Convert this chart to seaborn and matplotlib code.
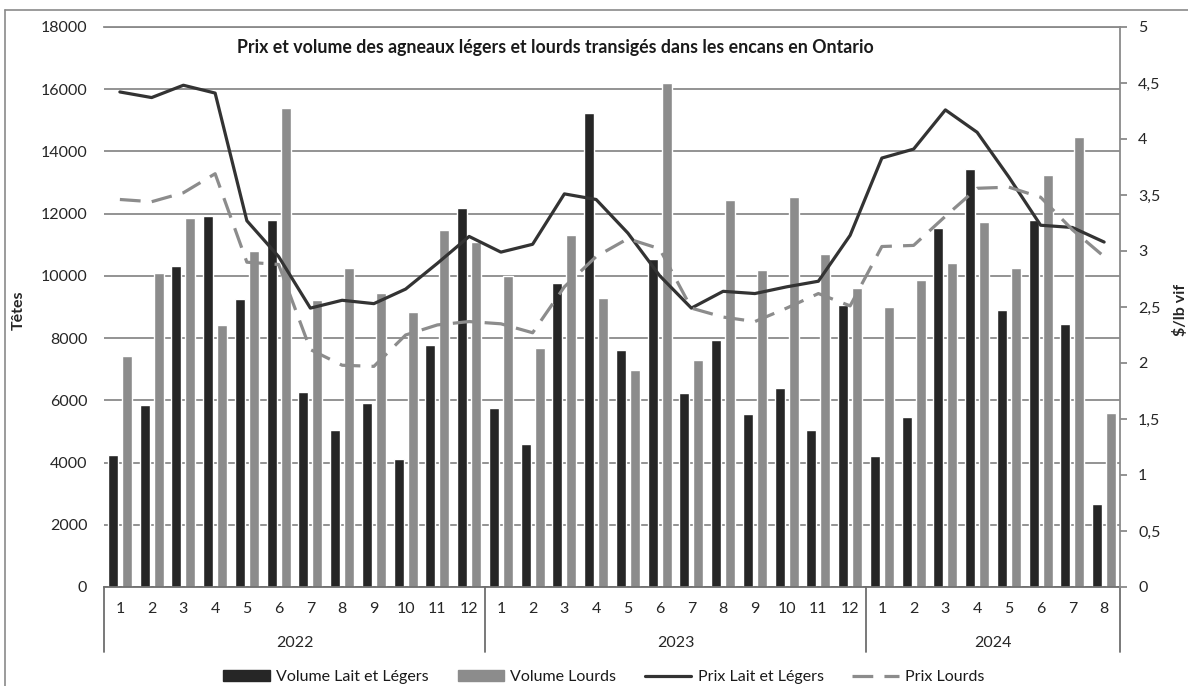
import numpy as np
import pandas as pd
import matplotlib
matplotlib.use("Agg")
import matplotlib.pyplot as plt
import matplotlib.transforms as mtransforms
from matplotlib.lines import Line2D
from matplotlib.patches import Patch
import seaborn as sns

# données
annees = [2022] * 12 + [2023] * 12 + [2024] * 8
mois = list(range(1, 13)) + list(range(1, 13)) + list(range(1, 9))

vol_legers = [4240, 5860, 10320, 11930, 9260, 11790, 6260, 5060, 5920, 4110, 7770, 12170,
              5760, 4600, 9760, 15240, 7630, 10530, 6240, 7930, 5570, 6390, 5050, 9070,
              4220, 5460, 11550, 13450, 8900, 11790, 8460, 2670]
vol_lourds = [7410, 10100, 11860, 8430, 10790, 15400, 9230, 10240, 9450, 8830, 11470, 11080,
              10000, 7670, 11330, 9300, 6960, 16190, 7300, 12430, 10190, 12550, 10690, 9600,
              9010, 9880, 10400, 11740, 10260, 13250, 14450, 5600]
prix_legers = [4.42, 4.37, 4.48, 4.41, 3.27, 2.95, 2.49, 2.56, 2.53, 2.66, 2.89, 3.13,
               2.99, 3.06, 3.51, 3.46, 3.16, 2.78, 2.49, 2.64, 2.62, 2.68, 2.73, 3.14,
               3.83, 3.91, 4.26, 4.06, 3.66, 3.23, 3.21, 3.08]
prix_lourds = [3.46, 3.44, 3.52, 3.69, 2.90, 2.88, 2.12, 1.98, 1.97, 2.25, 2.34, 2.37,
               2.35, 2.27, 2.68, 2.95, 3.11, 3.02, 2.49, 2.41, 2.37, 2.49, 2.62, 2.51,
               3.04, 3.05, 3.31, 3.56, 3.57, 3.48, 3.19, 2.95]

titre = "Prix et volume des agneaux légers et lourds transigés dans les encans en Ontario"
noms = ["Volume Lait et Légers", "Volume Lourds", "Prix Lait et Légers", "Prix Lourds"]

FONCE = "#262626"
GRIS = "#8c8c8c"
LIGNE = "#333333"

sns.set_style("white")
plt.rcParams["font.family"] = ["Lato", "DejaVu Sans"]
plt.rcParams["text.color"] = "#1a1a1a"

cles = [f"{a}-{m}" for a, m in zip(annees, mois)]
df = pd.DataFrame({
    "periode": cles * 2,
    "volume": vol_legers + vol_lourds,
    "serie": [noms[0]] * len(cles) + [noms[1]] * len(cles),
})

fig = plt.figure(figsize=(11.88, 6.86), dpi=100)
ax = fig.add_axes([104 / 1188, 99 / 686, (1120 - 104) / 1188, 560 / 686])

sns.barplot(data=df, x="periode", y="volume", hue="serie", order=cles,
            palette=[FONCE, GRIS], width=0.88, gap=0.27, saturation=1,
            legend=False, ax=ax)

ax.set_ylim(0, 18000)
ax.set_yticks(np.arange(0, 18001, 2000))
ax.yaxis.grid(True, color="#8a8a8a", lw=1.3)
ax.set_axisbelow(True)
for s in ["left", "right"]:
    ax.spines[s].set_visible(False)
ax.spines["top"].set_color("#8a8a8a")
ax.spines["top"].set_linewidth(1.3)
ax.spines["bottom"].set_color("#6e6e6e")
ax.spines["bottom"].set_linewidth(1.3)
ax.tick_params(axis="y", length=0, pad=12, labelsize=11.5, labelcolor="#262626")
ax.tick_params(axis="x", length=0, pad=11, labelsize=11.5, labelcolor="#262626")
ax.set_xticks(range(len(cles)))
ax.set_xticklabels([str(m) for m in mois])
ax.set_xlabel("")
ax.set_ylabel("Têtes", fontsize=11.5, fontweight="bold")
ax.yaxis.set_label_coords(-0.077, 0.495)

# axe secondaire pour les prix
ax2 = ax.twinx()
x = np.arange(len(cles))
sns.lineplot(x=x, y=prix_legers, ax=ax2, color=LIGNE, lw=2.3)
sns.lineplot(x=x, y=prix_lourds, ax=ax2, color=GRIS, lw=2.3, dashes=False,
             linestyle=(0, (6.5, 3.5)))
ax2.set_ylim(0, 5)
ax2.set_yticks(np.arange(0, 5.01, 0.5))
ax2.set_yticklabels([f"{v:g}".replace(".", ",") for v in np.arange(0, 5.01, 0.5)])
for s in ["left", "top", "bottom"]:
    ax2.spines[s].set_visible(False)
ax2.spines["right"].set_color("#8a8a8a")
ax2.spines["right"].set_linewidth(1.3)
ax2.tick_params(axis="y", length=5, width=1.3, color="#8a8a8a", pad=8,
                labelsize=11.5, labelcolor="#262626")
ax2.set_ylabel("$/lb vif", fontsize=11.5, fontweight="bold", rotation=90)
ax2.yaxis.set_label_coords(1.052, 0.495)
ax2.grid(False)
ax.set_xlim(-0.5, len(cles) - 0.5)

ax.text(0.444, 0.9625, titre, transform=ax.transAxes, ha="center", va="center",
        fontsize=12.8, fontweight="bold")

# axe des x hiérarchique : séparateurs et années
trans = mtransforms.blended_transform_factory(ax.transData, ax.transAxes)
bornes = [-0.5]
for i in range(1, len(annees)):
    if annees[i] != annees[i - 1]:
        bornes.append(i - 0.5)
bornes.append(len(annees) - 0.5)
for b in bornes:
    ax.add_line(Line2D([b, b], [0, -65 / 560], transform=trans, color="#6e6e6e",
                       lw=1.3, clip_on=False))
for a in sorted(set(annees)):
    idx = [i for i, v in enumerate(annees) if v == a]
    ax.text((idx[0] + idx[-1]) / 2, -56 / 560, str(a), transform=trans,
            ha="center", va="center", fontsize=11.5, color="#262626")

# légende
poignees = [Patch(color=FONCE), Patch(color=GRIS),
            Line2D([], [], color=LIGNE, lw=2.3),
            Line2D([], [], color=GRIS, lw=2.3, linestyle=(0, (6.5, 3.5)))]
fig.legend(poignees, noms, loc="center", bbox_to_anchor=(604 / 1188, 9 / 686),
           ncol=4, frameon=False, fontsize=11.5, handlelength=2.9,
           handletextpad=0.4, columnspacing=1.8)

# cadre extérieur
fig.add_artist(Line2D([5 / 1188, 5 / 1188], [0, 676 / 686], transform=fig.transFigure,
                      color="#8a8a8a", lw=1.2))
fig.add_artist(Line2D([5 / 1188, 1], [676 / 686, 676 / 686], transform=fig.transFigure,
                      color="#8a8a8a", lw=1.2))

fig.savefig("out.png", dpi=100)
